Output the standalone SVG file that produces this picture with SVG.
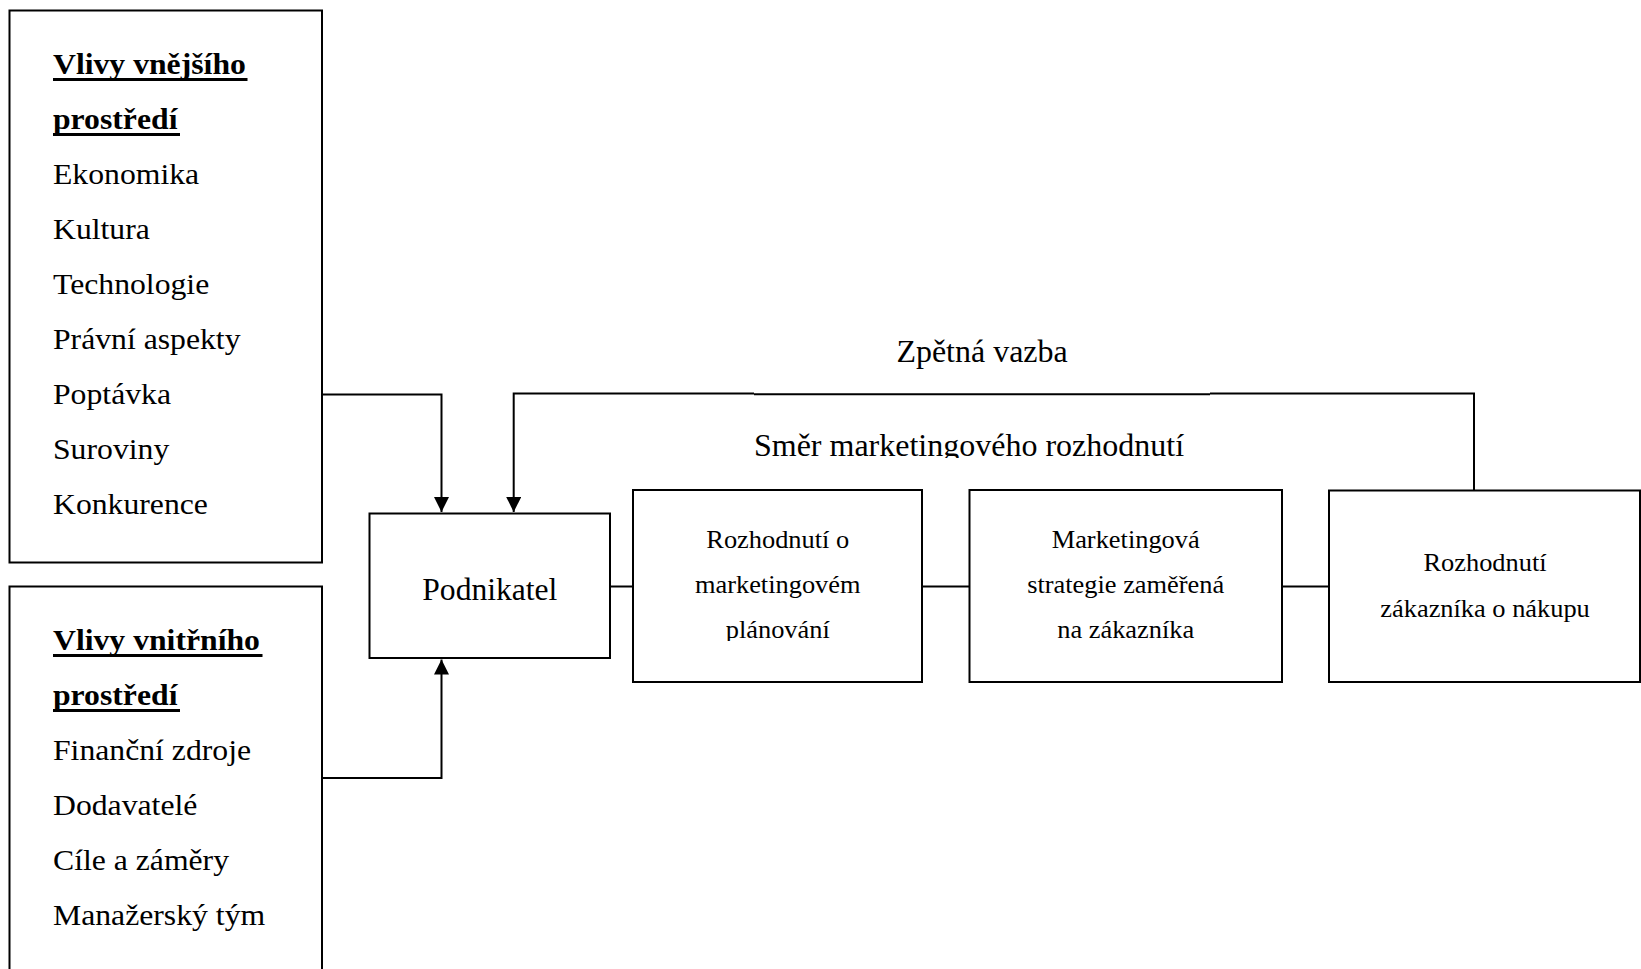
<svg xmlns="http://www.w3.org/2000/svg" width="1641" height="969" viewBox="0 0 1641 969">
<defs>
<style>
.box{fill:#fff;stroke:#000;stroke-width:2}
.ln{fill:none;stroke:#000;stroke-width:2}
.ul{stroke:#000;stroke-width:3}
.t{font-family:"Liberation Serif","Times New Roman",serif;fill:#000}
.L{font-size:30px}
.B{font-weight:bold}
.S{font-size:25px;text-anchor:middle}
.M{text-anchor:middle}
</style>
<marker id="arr" markerUnits="userSpaceOnUse" markerWidth="15" markerHeight="15" refX="15" refY="7.5" orient="auto">
<path d="M0,0 L15,7.5 L0,15 Z" fill="#000"/>
</marker>
<clipPath id="clipSmer"><rect x="600" y="400" width="700" height="58"/></clipPath>
<clipPath id="clipPlan"><rect x="634" y="491" width="287" height="150"/></clipPath>
</defs>
<rect width="1641" height="969" fill="#fff"/>

<g id="connectors">
<path class="ln" d="M322 394.5 H441.5 V512" marker-end="url(#arr)"/>
<path class="ln" d="M322 778 H441.5 V659.5" marker-end="url(#arr)"/>
<path class="ln" d="M1474 490 V393.5 H1210"/>
<path class="ln" d="M1210 394.3 H754"/>
<path class="ln" d="M754 393.5 H513.7 V512" marker-end="url(#arr)"/>
<path class="ln" d="M610 586.5 H633"/>
<path class="ln" d="M922 586.5 H969.5"/>
<path class="ln" d="M1282 586.5 H1329"/>
</g>

<g id="n-vnejsi">
<rect class="box" x="9.5" y="10.5" width="312.5" height="552"/>
<g transform="scale(1.057 1)">
<text class="t L B" x="50.14" y="74">Vlivy vnějšího</text>
<text class="t L B" x="50.14" y="129">prostředí</text>
<text class="t L" x="50.14" y="184">Ekonomika</text>
<text class="t L" x="50.14" y="239">Kultura</text>
<text class="t L" x="50.14" y="294">Technologie</text>
<text class="t L" x="50.14" y="349">Právní aspekty</text>
<text class="t L" x="50.14" y="404">Poptávka</text>
<text class="t L" x="50.14" y="459">Suroviny</text>
<text class="t L" x="50.14" y="514">Konkurence</text>
</g>
<line class="ul" x1="53" y1="79.5" x2="247.5" y2="79.5"/>
<line class="ul" x1="53" y1="134.5" x2="180" y2="134.5"/>
</g>

<g id="n-vnitrni">
<rect class="box" x="9.5" y="586.5" width="312.5" height="400"/>
<g transform="scale(1.057 1)">
<text class="t L B" x="50.14" y="650">Vlivy vnitřního</text>
<text class="t L B" x="50.14" y="705">prostředí</text>
<text class="t L" x="50.14" y="760">Finanční zdroje</text>
<text class="t L" x="50.14" y="815">Dodavatelé</text>
<text class="t L" x="50.14" y="870">Cíle a záměry</text>
<text class="t L" x="50.14" y="925">Manažerský tým</text>
</g>
<line class="ul" x1="53" y1="655.5" x2="262.5" y2="655.5"/>
<line class="ul" x1="53" y1="710.5" x2="180" y2="710.5"/>
</g>

<g id="n-podnikatel">
<rect class="box" x="369.5" y="513.5" width="240.5" height="144.5"/>
<text class="t M" style="font-size:31px" transform="scale(1.019 1)" x="480.7" y="600">Podnikatel</text>
</g>

<g id="n-planovani">
<rect class="box" x="633" y="490" width="289" height="192"/>
<g clip-path="url(#clipPlan)">
<g transform="scale(1.056 1)">
<text class="t S" x="736.5" y="548">Rozhodnutí o</text>
<text class="t S" x="736.5" y="593">marketingovém</text>
<text class="t S" x="736.5" y="638">plánování</text>
</g>
</g>
</g>

<g id="n-strategie">
<rect class="box" x="969.5" y="490" width="312.5" height="192"/>
<g transform="scale(1.056 1)">
<text class="t S" x="1066" y="548">Marketingová</text>
<text class="t S" x="1066" y="593">strategie zaměřená</text>
<text class="t S" x="1066" y="638">na zákazníka</text>
</g>
</g>

<g id="n-nakup">
<rect class="box" x="1329" y="490.5" width="311" height="191.5"/>
<g transform="scale(1.056 1)">
<text class="t S" x="1406.3" y="571">Rozhodnutí</text>
<text class="t S" x="1406.3" y="617">zákazníka o nákupu</text>
</g>
</g>

<g id="labels">
<text class="t M" style="font-size:31px" transform="scale(1.032 1)" x="951.6" y="362">Zpětná vazba</text>
<g clip-path="url(#clipSmer)">
<text class="t M" style="font-size:32px" x="969" y="456">Směr marketingového rozhodnutí</text>
</g>
</g>
</svg>
